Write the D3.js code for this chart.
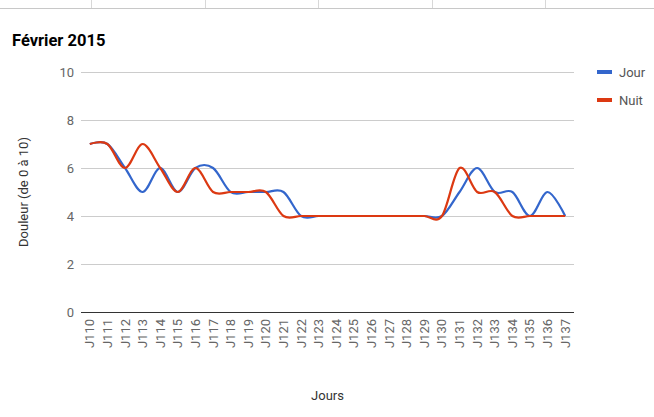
<!DOCTYPE html>
<html>
<head>
<meta charset="utf-8">
<script src="https://cdn.jsdelivr.net/npm/d3@7"></script>
<style>
  body { margin: 0; background: #fff; }
  text { font-family: Roboto, Arial, sans-serif; }
</style>
</head>
<body>
<div id="chart"></div>
<script>
// data
const days = ['J110','J111','J112','J113','J114','J115','J116','J117','J118','J119',
  'J120','J121','J122','J123','J124','J125','J126','J127','J128','J129',
  'J130','J131','J132','J133','J134','J135','J136','J137'];
const jour = [7,7,6,5,6,5,6,6,5,5, 5,5,4,4,4,4,4,4,4,4, 4,5,6,5,5,4,5,4];
const nuit = [7,7,6,7,6,5,6,5,5,5, 5,4,4,4,4,4,4,4,4,4, 4,6,5,5,4,4,4,4];
const yTicks = [0, 2, 4, 6, 8, 10];
const series = [
  { name: 'Jour', values: jour, color: '#3366cc' },
  { name: 'Nuit', values: nuit, color: '#dc3912' }
];

const W = 654, H = 417;
const margin = { top: 72, right: 80, bottom: 105, left: 81 };
const width = W - margin.left - margin.right;
const height = H - margin.top - margin.bottom;

const svg = d3.select('#chart').append('svg')
  .attr('width', W)
  .attr('height', H);

// spreadsheet cell borders at the top
svg.append('line')
  .attr('x1', 0).attr('x2', W).attr('y1', 8.5).attr('y2', 8.5)
  .attr('stroke', '#c8c8c8');
[91, 205, 318, 432, 545].forEach(x => {
  svg.append('line')
    .attr('x1', x + 0.5).attr('x2', x + 0.5).attr('y1', 0).attr('y2', 8)
    .attr('stroke', '#d8d8d8');
});

svg.append('text')
  .attr('x', 12).attr('y', 46)
  .attr('font-size', 16.5).attr('font-weight', 'bold')
  .attr('fill', '#000')
  .text('Février 2015');

const g = svg.append('g')
  .attr('transform', 'translate(' + margin.left + ',' + margin.top + ')');

const x = d3.scalePoint().domain(days).range([0, width]).padding(0.5);
const y = d3.scaleLinear().domain([0, 10]).range([height, 0]);

// gridlines
g.selectAll('.grid').data(yTicks.filter(d => d !== 0)).enter().append('line')
  .attr('x1', 0).attr('x2', width)
  .attr('y1', d => Math.round(y(d)) + 0.5).attr('y2', d => Math.round(y(d)) + 0.5)
  .attr('stroke', '#cccccc');

// y labels
g.selectAll('.ylab').data(yTicks).enter().append('text')
  .attr('x', -7).attr('y', d => y(d) + 4.5)
  .attr('text-anchor', 'end')
  .attr('font-size', 13).attr('fill', '#666')
  .text(d => d);

// lines
const line = d3.line()
  .x((d, i) => x(days[i]))
  .y(d => y(d))
  .curve(d3.curveCatmullRom.alpha(0));

series.forEach(s => {
  g.append('path')
    .datum(s.values)
    .attr('d', line)
    .attr('fill', 'none')
    .attr('stroke', s.color)
    .attr('stroke-width', 2.2);
});

// baseline
g.append('line')
  .attr('x1', 0).attr('x2', width)
  .attr('y1', height + 0.5).attr('y2', height + 0.5)
  .attr('stroke', '#333').attr('stroke-width', 1);

// x labels (rotated)
g.selectAll('.xlab').data(days).enter().append('text')
  .attr('transform', d => 'translate(' + (x(d) + 4.5) + ',' + (height + 7) + ') rotate(-90)')
  .attr('text-anchor', 'end')
  .attr('font-size', 13).attr('fill', '#666')
  .text(d => d);

// axis titles
svg.append('text')
  .attr('x', margin.left + width / 2).attr('y', 400)
  .attr('text-anchor', 'middle')
  .attr('font-size', 13).attr('fill', '#333')
  .text('Jours');

svg.append('text')
  .attr('transform', 'translate(28,' + (margin.top + height / 2) + ') rotate(-90)')
  .attr('text-anchor', 'middle')
  .attr('font-size', 13).attr('fill', '#333')
  .text('Douleur (de 0 à 10)');

// legend
const leg = svg.append('g').attr('transform', 'translate(597,72)');
series.forEach((s, i) => {
  leg.append('line')
    .attr('x1', 0).attr('x2', 15).attr('y1', i * 28).attr('y2', i * 28)
    .attr('stroke', s.color).attr('stroke-width', 4);
  leg.append('text')
    .attr('x', 22).attr('y', i * 28 + 5)
    .attr('font-size', 13).attr('fill', '#555')
    .text(s.name);
});
</script>
</body>
</html>
